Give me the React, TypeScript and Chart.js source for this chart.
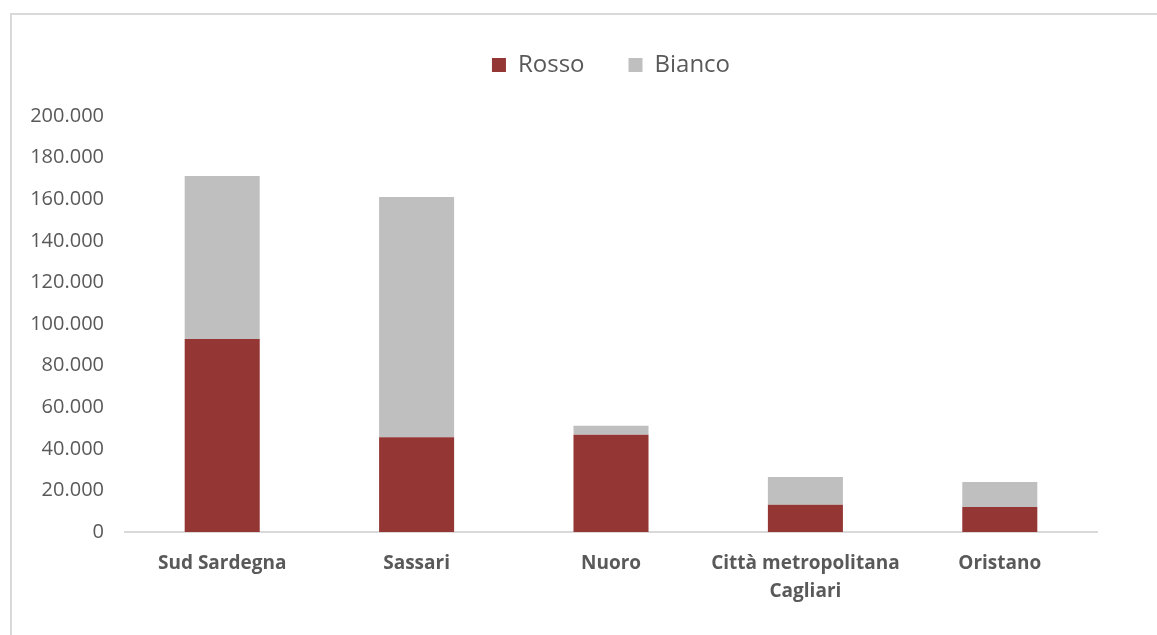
import React, { useEffect, useRef } from "react";
import { Chart, registerables } from "chart.js";

Chart.register(...registerables);

const categories: (string | string[])[] = [
  "Sud Sardegna",
  "Sassari",
  "Nuoro",
  ["Città metropolitana", "Cagliari"],
  "Oristano",
];
const rosso = [92800, 45600, 46800, 13100, 12000];
const bianco = [78400, 115400, 4300, 13300, 12000];
const yMax = 200000;
const yStep = 20000;

const FONT = "'Open Sans', sans-serif";
const TEXT = "#595959";

function fmt(v: number): string {
  const s = Math.round(v).toString();
  return s.replace(/\B(?=(\d{3})+(?!\d))/g, ".");
}

export default function App() {
  const ref = useRef<HTMLCanvasElement | null>(null);

  useEffect(() => {
    if (!ref.current) return;
    const PLOT_LEFT = 125;
    const PLOT_TOP = 116;
    const PLOT_BOTTOM = 532;
    const PAD_TOP = 9;
    const chart = new Chart(ref.current, {
      type: "bar",
      data: {
        labels: categories,
        datasets: [
          {
            label: "Rosso",
            data: rosso,
            backgroundColor: "#943634",
            barPercentage: 0.386,
            categoryPercentage: 1,
          },
          {
            label: "Bianco",
            data: bianco,
            backgroundColor: "#BFBFBF",
            barPercentage: 0.386,
            categoryPercentage: 1,
          },
        ],
      },
      options: {
        responsive: false,
        animation: false,
        layout: { padding: { top: PAD_TOP, left: 0, right: 60, bottom: 0 } },
        plugins: {
          legend: {
            position: "top",
            labels: {
              boxWidth: 14,
              boxHeight: 14,
              padding: 44,
              color: TEXT,
              font: { family: FONT, size: 24 },
            },
          },
          tooltip: { enabled: false },
        },
        scales: {
          x: {
            stacked: true,
            grid: { display: false, drawTicks: false },
            border: { display: true, color: "#D9D9D9", width: 2 },
            ticks: {
              color: TEXT,
              font: { family: FONT, size: 19, weight: "bold", lineHeight: 1.45 },
              padding: 18,
              maxRotation: 0,
              autoSkip: false,
            },
            afterFit: (scale: any) => {
              scale.height = 635 - PLOT_BOTTOM;
            },
          },
          y: {
            stacked: true,
            min: 0,
            max: yMax,
            grid: { display: false, drawTicks: false },
            border: { display: false },
            ticks: {
              stepSize: yStep,
              color: TEXT,
              font: { family: FONT, size: 20 },
              padding: 21,
              callback: (v: any) => fmt(Number(v)),
            },
            afterFit: (scale: any) => {
              scale.width = PLOT_LEFT;
            },
          },
        },
      },
      plugins: [
        {
          id: "legendTweak",
          beforeInit(c: any) {
            const lg = c.legend;
            if (!lg) return;
            const orig = lg.fit;
            lg.fit = function () {
              orig.call(this);
              this.height = PLOT_TOP - PAD_TOP;
            };
          },
          afterLayout(c: any) {
            if (c.legend) {
              c.legend.left = c.chartArea.left;
              c.legend.right = c.chartArea.right;
            }
          },
        },
      ],
    } as any);
    return () => chart.destroy();
  }, []);

  return (
    <div
      style={{
        position: "fixed",
        left: 0,
        top: 0,
        width: 1157,
        height: 635,
        background: "#fff",
        overflow: "hidden",
      }}
    >
      <div
        style={{
          position: "absolute",
          left: 10,
          top: 13,
          width: 1300,
          height: 800,
          borderLeft: "2px solid #D9D9D9",
          borderTop: "2px solid #D9D9D9",
        }}
      />
      <canvas
        ref={ref}
        width={1157}
        height={635}
        style={{ position: "absolute", left: 0, top: 0, width: 1157, height: 635 }}
      />
    </div>
  );
}
